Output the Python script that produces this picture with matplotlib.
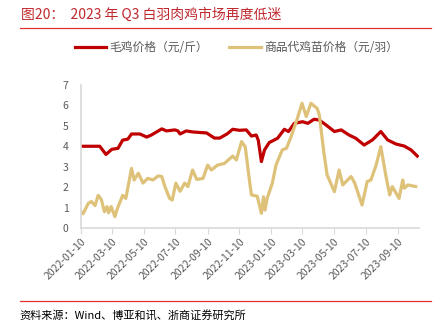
import pandas as pd
import matplotlib
matplotlib.use("Agg")
import matplotlib.pyplot as plt
import matplotlib.dates as mdates

plt.rcParams['font.family'] = ['Noto Sans CJK SC', 'DejaVu Sans']

# 毛鸡价格（元/斤）
broiler_dates = ["2022-01-10", "2022-02-15", "2022-02-27", "2022-03-10", "2022-03-22", "2022-03-31",
                 "2022-04-10", "2022-04-17", "2022-05-03", "2022-05-16", "2022-05-25", "2022-06-04",
                 "2022-06-14", "2022-06-23", "2022-07-09", "2022-07-15", "2022-07-19", "2022-07-31",
                 "2022-08-12", "2022-09-08", "2022-09-23", "2022-10-03", "2022-10-17", "2022-10-28",
                 "2022-11-10", "2022-11-23", "2022-12-03", "2022-12-12", "2022-12-16", "2022-12-22",
                 "2022-12-28", "2023-01-06", "2023-01-22", "2023-02-04", "2023-02-12", "2023-02-23",
                 "2023-03-11", "2023-03-21", "2023-04-02", "2023-04-12", "2023-04-25", "2023-05-11",
                 "2023-05-24", "2023-06-08", "2023-06-21", "2023-07-07", "2023-07-23", "2023-08-08",
                 "2023-08-21", "2023-09-06", "2023-09-22", "2023-10-05", "2023-10-17"]
broiler_price = [4.0, 4.0, 3.6, 3.85, 3.9, 4.3,
                 4.35, 4.6, 4.6, 4.45, 4.55, 4.7,
                 4.85, 4.75, 4.8, 4.75, 4.6, 4.75,
                 4.7, 4.65, 4.4, 4.4, 4.6, 4.83,
                 4.78, 4.8, 4.5, 4.55, 4.3, 3.25,
                 3.82, 4.18, 4.39, 4.83, 4.72, 5.12,
                 5.2, 5.12, 5.32, 5.28, 5.04, 4.72,
                 4.8, 4.55, 4.39, 4.06, 4.31, 4.72,
                 4.31, 4.11, 4.01, 3.82, 3.52]

# 商品代鸡苗价格（元/羽）
chick_dates = ["2022-01-10", "2022-01-14", "2022-01-24", "2022-01-30", "2022-02-06", "2022-02-12",
               "2022-02-18", "2022-02-24", "2022-03-01", "2022-03-04", "2022-03-09", "2022-03-16",
               "2022-03-21", "2022-03-31", "2022-04-06", "2022-04-17", "2022-04-22", "2022-04-30",
               "2022-05-09", "2022-05-18", "2022-05-28", "2022-06-07", "2022-06-14", "2022-06-20",
               "2022-06-29", "2022-07-04", "2022-07-11", "2022-07-19", "2022-07-28", "2022-08-03",
               "2022-08-12", "2022-08-20", "2022-09-01", "2022-09-10", "2022-09-17", "2022-09-29",
               "2022-10-12", "2022-10-28", "2022-11-04", "2022-11-14", "2022-11-21", "2022-11-29",
               "2022-12-03", "2022-12-14", "2022-12-22", "2022-12-26", "2022-12-29", "2023-01-02",
               "2023-01-12", "2023-01-19", "2023-01-31", "2023-02-08", "2023-02-17", "2023-03-01",
               "2023-03-10", "2023-03-18", "2023-03-27", "2023-04-08", "2023-04-12", "2023-04-21",
               "2023-04-27", "2023-05-11", "2023-05-20", "2023-05-27", "2023-06-12", "2023-06-19",
               "2023-07-03", "2023-07-13", "2023-07-20", "2023-07-30", "2023-08-08", "2023-08-18",
               "2023-08-25", "2023-08-30", "2023-09-12", "2023-09-19", "2023-09-22", "2023-09-29",
               "2023-10-14"]
chick_price = [0.8, 0.7, 1.21, 1.3, 1.1, 1.6,
               1.4, 0.8, 1.05, 0.75, 1.05, 0.56,
               0.97, 1.6, 1.45, 2.92, 2.35, 2.68,
               2.2, 2.43, 2.35, 2.55, 2.52, 2.03,
               1.45, 1.37, 2.2, 1.8, 2.2, 2.03,
               2.84, 2.38, 2.43, 3.08, 2.84, 3.08,
               3.16, 3.52, 3.33, 4.23, 3.98, 2.35,
               1.62, 1.56, 0.72, 1.53, 0.88, 1.45,
               2.2, 3.08, 3.82, 3.9, 4.47, 5.37,
               6.1, 5.45, 6.1, 5.85, 5.53, 3.66,
               2.6, 1.78, 2.84, 2.11, 2.52, 2.2,
               1.13, 2.28, 2.35, 3.08, 3.98, 2.52,
               1.62, 2.03, 1.45, 2.35, 1.95, 2.11,
               2.03]

tick_dates = ["2022-01-10", "2022-03-10", "2022-05-10", "2022-07-10", "2022-09-10", "2022-11-10",
              "2023-01-10", "2023-03-10", "2023-05-10", "2023-07-10", "2023-09-10"]

red = "#C00000"
gold = "#DFC27A"
grey = "#595959"

fig = plt.figure(figsize=(4.4, 3.24), dpi=100)
ax = fig.add_axes([0.184, 0.296, 0.768, 0.442])

ax.plot(pd.to_datetime(broiler_dates), broiler_price, color=red, lw=2.3, label="毛鸡价格（元/斤）")
ax.plot(pd.to_datetime(chick_dates), chick_price, color=gold, lw=2.3, label="商品代鸡苗价格（元/羽）")

ax.set_ylim(0, 7)
ax.set_yticks(range(0, 8))
ax.set_xlim(pd.Timestamp("2022-01-10"), pd.Timestamp("2023-10-20"))
ax.set_xticks(pd.to_datetime(tick_dates))
ax.xaxis.set_major_formatter(mdates.DateFormatter("%Y-%m-%d"))
plt.setp(ax.get_xticklabels(), rotation=45, ha="right", rotation_mode="anchor")

for s in ["top", "right"]:
    ax.spines[s].set_visible(False)
for s in ["left", "bottom"]:
    ax.spines[s].set_color("#D9D9D9")
    ax.spines[s].set_linewidth(1.2)
ax.tick_params(axis="y", length=0, labelsize=7.5, labelcolor=grey, pad=9)
ax.tick_params(axis="x", length=4, color="#D9D9D9", labelsize=7.5, labelcolor=grey, pad=2)

fig.legend(handles=ax.get_lines(), loc="center", bbox_to_anchor=(0.537, 0.852), ncol=2, frameon=False,
           fontsize=8.5, labelcolor=grey, handlelength=2.7, columnspacing=1.8, handletextpad=0.25)

# title, rules and source
fig.text(0.048, 0.955, "图20：  2023 年 Q3 白羽肉鸡市场再度低迷", color="#C0282D", fontsize=10,
         va="center", ha="left")
fig.add_artist(plt.Line2D([0.045, 0.98], [0.913, 0.913], color="#E03030", lw=0.9))
fig.add_artist(plt.Line2D([0.045, 0.98], [0.071, 0.071], color="#E03030", lw=0.9))
fig.text(0.045, 0.024, "资料来源：Wind、博亚和讯、浙商证券研究所", color="black", fontsize=8,
         va="center", ha="left")

fig.savefig("out.png", dpi=100)
